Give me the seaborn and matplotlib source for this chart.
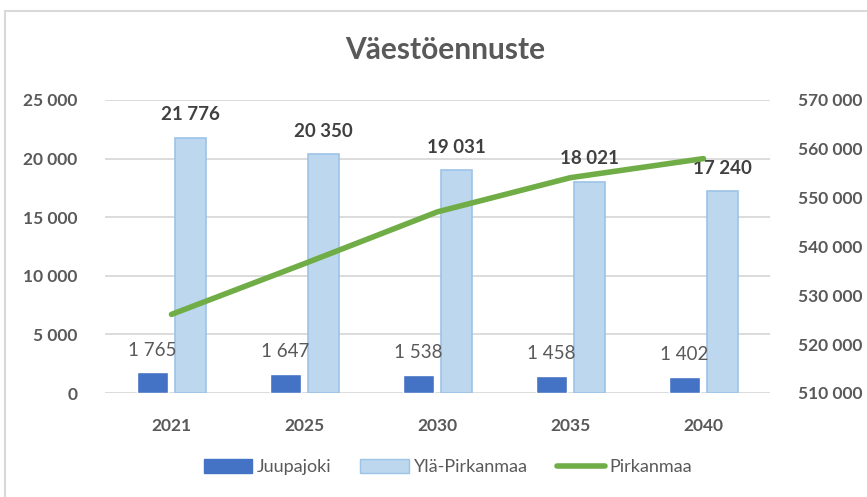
import seaborn as sns
import matplotlib.pyplot as plt
import matplotlib.patches as mpatches
import matplotlib.lines as mlines
import numpy as np
import pandas as pd

years = ["2021", "2025", "2030", "2035", "2040"]
juupajoki = [1765, 1647, 1538, 1458, 1402]
yla_pirkanmaa = [21776, 20350, 19031, 18021, 17240]
pirkanmaa = [526100, 536500, 547100, 554100, 558000]

c_juu = "#4472C4"
c_yla = "#BDD7EE"
c_yla_edge = "#9DC3E6"
c_pirk = "#70AD47"
grey = "#595959"
grid = "#D9D9D9"

sns.set_theme(style="white")
plt.rcParams["font.family"] = ["Lato", "DejaVu Sans"]

def fmt(v):
    return f"{v:,.0f}".replace(",", " ")

df = pd.DataFrame({"year": years * 2,
                   "value": juupajoki + yla_pirkanmaa,
                   "series": ["Juupajoki"] * 5 + ["Ylä-Pirkanmaa"] * 5})

fig = plt.figure(figsize=(8.67, 4.97), dpi=100)
ax = fig.add_axes([105 / 867, 1 - 393 / 497, 665 / 867, 293 / 497])

sns.barplot(data=df, x="year", y="value", hue="series",
            palette={"Juupajoki": c_juu, "Ylä-Pirkanmaa": c_yla},
            saturation=1, width=0.57, gap=0.19, legend=False, ax=ax)

# edge on the light bars
for p in ax.patches[5:10]:
    p.set_edgecolor(c_yla_edge)
    p.set_linewidth(1.2)

ax.set_ylim(0, 25000)
ax.set_yticks(range(0, 25001, 5000))
ax.set_yticklabels([fmt(v) for v in range(0, 25001, 5000)])
ax.set_xlim(-0.5, 4.5)
ax.set_xlabel("")
ax.set_ylabel("")
ax.yaxis.grid(True, color=grid, lw=1.3)
ax.set_axisbelow(True)
for s in ax.spines.values():
    s.set_visible(False)
ax.tick_params(axis="both", length=0, labelcolor=grey, labelsize=12.5)
ax.tick_params(axis="y", pad=20)
ax.tick_params(axis="x", pad=18)
for t in ax.get_xticklabels() + ax.get_yticklabels():
    t.set_fontweight("bold")

# data labels
for p, v in zip(ax.patches[0:5], juupajoki):
    ax.annotate(fmt(v), (p.get_x() + p.get_width() / 2, p.get_height()),
                xytext=(0, 16), textcoords="offset points", ha="center",
                va="center", fontsize=13.5, color=grey)
for p, v in zip(ax.patches[5:10], yla_pirkanmaa):
    ax.annotate(fmt(v), (p.get_x() + p.get_width() / 2, p.get_height()),
                xytext=(0, 16.5), textcoords="offset points", ha="center",
                va="center", fontsize=13.5, fontweight="bold", color="#404040")

ax2 = ax.twinx()
sns.lineplot(x=np.arange(len(years)), y=pirkanmaa, color=c_pirk, lw=4,
             ax=ax2, solid_capstyle="round")
ax2.set_ylim(510000, 570000)
ax2.set_yticks(range(510000, 570001, 10000))
ax2.set_yticklabels([fmt(v) for v in range(510000, 570001, 10000)])
for s in ax2.spines.values():
    s.set_visible(False)
ax2.tick_params(axis="y", length=0, labelcolor=grey, labelsize=12.5, pad=20)
for t in ax2.get_yticklabels():
    t.set_fontweight("bold")

fig.text(445 / 867, 1 - 50 / 497, "Väestöennuste", ha="center", va="center",
         fontsize=21.5, fontweight="bold", color=grey)

handles = [mpatches.Patch(facecolor=c_juu, edgecolor=c_juu),
           mpatches.Patch(facecolor=c_yla, edgecolor=c_yla_edge),
           mlines.Line2D([], [], color=c_pirk, lw=4, solid_capstyle="round")]
leg = fig.legend(handles, ["Juupajoki", "Ylä-Pirkanmaa", "Pirkanmaa"],
                 loc="center", bbox_to_anchor=(448 / 867, 1 - 467 / 497),
                 ncol=3, frameon=False, fontsize=13, handlelength=2.7,
                 handleheight=0.8, handletextpad=0.25, columnspacing=1.6)
for t in leg.get_texts():
    t.set_color(grey)

# chart border
fig.add_artist(mpatches.Rectangle((5 / 867, -0.1), 1.2, 1 - 11 / 497 + 0.1,
                                  transform=fig.transFigure, fill=False,
                                  edgecolor=grid, lw=1.5))

fig.savefig("out.png", dpi=100)
